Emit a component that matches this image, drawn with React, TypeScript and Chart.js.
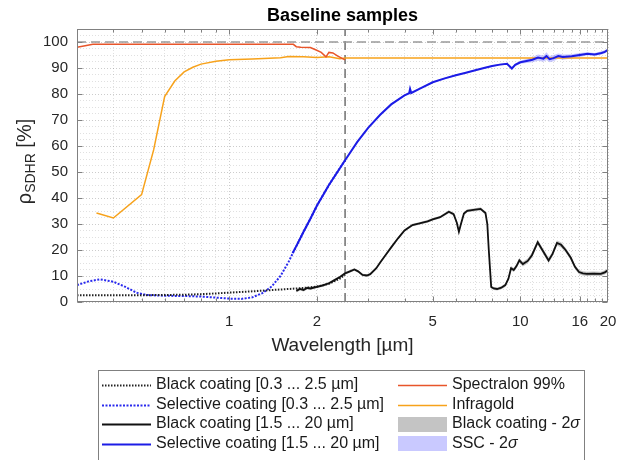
import React, { useEffect, useRef } from "react";
import { Chart, registerables } from "chart.js";

Chart.register(...registerables);

const FONT = '"Liberation Sans", Arial, Helvetica, sans-serif';

// ---------- data ----------
const blackDottedWl = [0.3, 0.35, 0.4, 0.5, 0.6, 0.7, 0.8, 0.9, 1.0, 1.2, 1.4, 1.6, 1.8, 2.0, 2.2, 2.4, 2.5];
const blackDottedVal = [2.6, 2.6, 2.6, 2.6, 2.7, 2.8, 3.0, 3.3, 3.6, 4.1, 4.6, 5.0, 5.4, 5.9, 7.0, 9.0, 10.5];

const blueDottedWl = [0.3, 0.33, 0.36, 0.4, 0.44, 0.48, 0.52, 0.6, 0.7, 0.8, 0.9, 1.0, 1.1, 1.2, 1.3, 1.4, 1.5, 1.6, 1.7, 1.8, 1.9, 2.0, 2.2, 2.4, 2.5];
const blueDottedVal = [6.5, 8.0, 8.7, 7.8, 5.8, 3.6, 2.7, 2.4, 2.3, 2.1, 1.7, 1.3, 1.2, 1.8, 3.4, 6.0, 10.0, 15.5, 21.5, 27, 32, 37, 45, 51.5, 54.5];

const blackSolidWl = [1.7, 1.75, 1.8, 1.85, 1.9, 2.0, 2.1, 2.2, 2.3, 2.4, 2.5, 2.6, 2.69, 2.77, 2.87, 2.97, 3.05, 3.2, 3.3, 3.45, 3.6, 3.8, 4.0, 4.26, 4.5, 4.8, 5.0, 5.3, 5.68, 5.9, 6.05, 6.15, 6.25, 6.4, 6.57, 6.9, 7.3, 7.59, 7.7, 7.79, 7.94, 8.1, 8.32, 8.6, 8.88, 9.1, 9.29, 9.49, 9.7, 9.92, 10.2, 10.6, 10.96, 11.47, 11.9, 12.5, 12.9, 13.36, 13.8, 14.3, 14.9, 15.4, 15.9, 16.4, 16.9, 17.8, 18.9, 19.5, 20.0];
const blackSolidVal = [4.3, 5.0, 4.6, 5.4, 5.2, 5.8, 6.4, 7.2, 8.4, 9.6, 11.0, 11.8, 12.5, 11.8, 10.4, 10.2, 10.7, 13.0, 15.2, 18.2, 21.0, 24.5, 27.5, 29.6, 30.2, 31.0, 31.8, 32.6, 34.7, 33.8, 30.5, 27.0, 30.0, 34.0, 35.1, 35.4, 35.8, 34.2, 30.0, 20.0, 5.8, 5.2, 5.0, 5.5, 6.5, 9.0, 13.0, 12.3, 13.8, 16.0, 14.6, 15.8, 18.0, 23.0, 20.0, 16.0, 18.5, 22.7, 22.0, 20.0, 17.0, 13.5, 11.5, 11.0, 10.8, 10.9, 10.8, 11.4, 12.2];
const blackSigma = [0.6, 0.6, 0.6, 0.6, 0.6, 0.5, 0.5, 0.5, 0.5, 0.5, 0.5, 0.5, 0.5, 0.5, 0.5, 0.5, 0.5, 0.5, 0.5, 0.5, 0.5, 0.5, 0.5, 0.5, 0.5, 0.5, 0.5, 0.5, 0.6, 0.6, 0.6, 0.6, 0.6, 0.6, 0.6, 0.6, 0.6, 0.6, 0.6, 0.6, 0.6, 0.6, 0.6, 0.6, 0.7, 0.7, 0.8, 0.8, 0.8, 0.9, 0.9, 0.9, 1.0, 1.0, 1.0, 1.0, 1.0, 1.0, 1.0, 0.9, 0.9, 0.8, 0.8, 0.8, 0.8, 0.8, 0.8, 0.8, 0.8];

const blueSolidWl = [1.65, 1.7, 1.8, 1.9, 2.0, 2.2, 2.5, 2.75, 3.0, 3.3, 3.6, 4.0, 4.15, 4.18, 4.22, 4.5, 5.0, 5.5, 6.0, 6.5, 7.0, 7.5, 8.0, 8.5, 9.0, 9.2, 9.35, 9.6, 10.0, 10.5, 11.0, 11.5, 12.0, 12.3, 12.6, 13.0, 13.5, 14.0, 15.0, 16.0, 17.0, 18.0, 19.0, 19.5, 20.0];
const blueSolidVal = [18.8, 21.5, 27, 32, 37, 45, 54.5, 61.5, 67, 72, 76, 79.5, 80.3, 82.0, 80.4, 82, 84.5, 86, 87.2, 88.2, 89.1, 90, 90.8, 91.3, 91.6, 90.6, 89.8, 91.2, 92.2, 92.7, 93.2, 94.0, 93.6, 94.6, 93.4, 93.8, 94.6, 94.2, 94.5, 95.0, 95.5, 95.2, 95.8, 96.2, 97.0];
const blueSigma = [0.3, 0.3, 0.3, 0.3, 0.3, 0.3, 0.3, 0.3, 0.3, 0.3, 0.3, 0.3, 0.3, 0.3, 0.3, 0.3, 0.3, 0.3, 0.3, 0.3, 0.3, 0.3, 0.3, 0.3, 0.3, 0.5, 0.5, 0.5, 0.6, 0.8, 1.0, 1.2, 1.2, 1.5, 1.2, 1.2, 1.0, 1.0, 0.8, 0.8, 0.6, 0.6, 0.6, 0.6, 0.6];

const spectralonWl = [0.3, 0.32, 0.34, 0.5, 1.0, 1.66, 1.7, 1.76, 1.9, 1.98, 2.07, 2.15, 2.2, 2.27, 2.36, 2.48, 2.5];
const spectralonVal = [98.0, 98.6, 99.1, 99.1, 99.1, 99.1, 98.2, 98.0, 97.9, 97.0, 96.0, 94.3, 96.0, 95.8, 94.6, 93.3, 93.2];

const infragoldWl = [0.35, 0.4, 0.5, 0.55, 0.6, 0.65, 0.7, 0.75, 0.8, 0.9, 1.0, 1.2, 1.5, 1.6, 1.8, 2.0, 2.2, 2.4, 2.5, 3, 5, 10, 20];
const infragoldVal = [34.2, 32.3, 41.3, 58.5, 79, 85, 88.5, 90.3, 91.5, 92.6, 93.2, 93.5, 93.9, 94.4, 94.3, 94.0, 94.3, 93.6, 93.8, 93.8, 93.8, 93.8, 93.8];

const refLineY = 100;
const refLineX = 2.5;

// ---------- axes ----------
const xMin = 0.3;
const xMax = 20;
const yMin = 0;
const yMax = 105;
const yMinorStep = 2.5;
const xGridValues = [0.3, 0.4, 0.5, 0.6, 0.7, 0.8, 0.9, 1, 2, 3, 4, 5, 6, 7, 8, 9, 10, 11, 12, 13, 14, 15, 16, 17, 18, 19, 20];
const xTickLabels = [1, 2, 5, 10, 16, 20];
const yTickLabels = [0, 10, 20, 30, 40, 50, 60, 70, 80, 90, 100];

const TEXT = "#262626";
const FRAME = "#808080";

const pts = (xs: number[], ys: number[]) => xs.map((x, i) => ({ x, y: ys[i] }));
const bandPts = (xs: number[], ys: number[], s: number[], sign: number) =>
  xs.map((x, i) => ({ x, y: ys[i] + sign * s[i] }));

const legendColumns = [
  [2, 3, 0, 1],
  [4, 5, 7, 9],
];

const legendPlugin = {
  id: "customLegend",
  afterDraw(chart: any) {
    const { ctx, chartArea } = chart;
    const boxW = 486;
    const left = Math.round(chartArea.left + 21);
    const top = 370;
    ctx.save();
    ctx.strokeStyle = FRAME;
    ctx.lineWidth = 1;
    ctx.strokeRect(left + 0.5, top + 0.5, boxW, 120);
    const colX = [left + 4, left + 300];
    const sampleW = 49;
    const rowY0 = top + 15;
    const rowH = 19.5;
    legendColumns.forEach((col, ci) => {
      col.forEach((dsIndex, ri) => {
        const ds = chart.data.datasets[dsIndex];
        const y = rowY0 + ri * rowH;
        const x0 = colX[ci];
        if (ds.fill) {
          ctx.fillStyle = ds.legendColor;
          ctx.fillRect(x0, Math.round(y - 7.5), sampleW, 15);
        } else {
          ctx.strokeStyle = ds.borderColor;
          ctx.lineWidth = ds.borderWidth;
          ctx.setLineDash(ds.borderDash || []);
          ctx.beginPath();
          ctx.moveTo(x0, Math.round(y) + 0.5);
          ctx.lineTo(x0 + sampleW, Math.round(y) + 0.5);
          ctx.stroke();
          ctx.setLineDash([]);
        }
        ctx.fillStyle = "#1a1a1a";
        ctx.textBaseline = "middle";
        ctx.textAlign = "left";
        const label: string = ds.label;
        const parts = label.split("σ");
        let tx = x0 + sampleW + 5;
        parts.forEach((p, pi) => {
          ctx.font = `16px ${FONT}`;
          ctx.fillText(p, tx, y);
          tx += ctx.measureText(p).width;
          if (pi < parts.length - 1) {
            ctx.font = `italic 16px ${FONT}`;
            ctx.fillText("σ", tx, y);
            tx += ctx.measureText("σ").width;
          }
        });
      });
    });
    ctx.restore();
  },
};

const yTitlePlugin = {
  id: "yTitle",
  afterDraw(chart: any) {
    const { ctx, chartArea } = chart;
    const cy = (chartArea.top + chartArea.bottom) / 2 - 4;
    ctx.save();
    ctx.translate(31, cy);
    ctx.rotate(-Math.PI / 2);
    ctx.fillStyle = TEXT;
    ctx.textBaseline = "alphabetic";
    ctx.textAlign = "left";
    const parts = [
      { t: "ρ", f: `20px ${FONT}`, dy: 0 },
      { t: "SDHR", f: `14px ${FONT}`, dy: 4 },
      { t: " [%]", f: `20px ${FONT}`, dy: 0 },
    ];
    let total = 0;
    parts.forEach((p) => {
      ctx.font = p.f;
      total += ctx.measureText(p.t).width;
    });
    let x = -total / 2;
    parts.forEach((p) => {
      ctx.font = p.f;
      ctx.fillText(p.t, x, p.dy);
      x += ctx.measureText(p.t).width;
    });
    ctx.restore();
  },
};

const framePlugin = {
  id: "frame",
  afterDatasetsDraw(chart: any) {
    const { ctx, chartArea: a, scales } = chart;
    const L = Math.round(a.left) + 0.5;
    const R = Math.round(a.right) - 0.5;
    const T = Math.round(a.top) + 0.5;
    const B = Math.round(a.bottom) - 0.5;
    ctx.save();
    ctx.strokeStyle = FRAME;
    ctx.lineWidth = 1;
    ctx.beginPath();
    xGridValues.forEach((v) => {
      if (v <= xMin || v >= xMax) return;
      const px = Math.round(scales.x.getPixelForValue(v)) + 0.5;
      const len = xTickLabels.includes(v) ? 5 : 3;
      ctx.moveTo(px, B);
      ctx.lineTo(px, B - len);
      ctx.moveTo(px, T);
      ctx.lineTo(px, T + len);
    });
    yTickLabels.forEach((v) => {
      const py = Math.round(scales.y.getPixelForValue(v)) + 0.5;
      ctx.moveTo(L, py);
      ctx.lineTo(L + 5, py);
      ctx.moveTo(R, py);
      ctx.lineTo(R - 5, py);
    });
    ctx.stroke();
    ctx.strokeRect(L, T, R - L, B - T);
    ctx.restore();
  },
};

export default function App() {
  const ref = useRef<HTMLCanvasElement>(null);

  useEffect(() => {
    const canvas = ref.current;
    if (!canvas) return;
    Chart.defaults.font.family = FONT;

    const lineDs = (label: string, data: any[], color: string, width: number, dash: number[] = []) => ({
      label,
      data,
      borderColor: color,
      backgroundColor: color,
      borderWidth: width,
      borderDash: dash,
      pointRadius: 0,
      fill: false,
      tension: 0,
    });

    const chart = new Chart(canvas, {
      type: "line",
      data: {
        datasets: [
          lineDs("Black coating [1.5 ... 20 µm]", pts(blackSolidWl, blackSolidVal), "#111111", 1.8),
          lineDs("Selective coating [1.5 ... 20 µm]", pts(blueSolidWl, blueSolidVal), "#1c1ce6", 2),
          lineDs("Black coating [0.3 ... 2.5 µm]", pts(blackDottedWl, blackDottedVal), "#222222", 2, [1.5, 1.5]),
          lineDs("Selective coating [0.3 ... 2.5 µm]", pts(blueDottedWl, blueDottedVal), "#2a2aee", 2, [2, 1.5]),
          lineDs("Spectralon 99%", pts(spectralonWl, spectralonVal), "#e8552a", 1.5),
          lineDs("Infragold", pts(infragoldWl, infragoldVal), "#f7a21b", 1.5),
          {
            label: "",
            data: bandPts(blackSolidWl, blackSolidVal, blackSigma, 1),
            borderWidth: 0,
            pointRadius: 0,
            fill: false,
          },
          {
            label: "Black coating - 2σ",
            data: bandPts(blackSolidWl, blackSolidVal, blackSigma, -1),
            borderWidth: 0,
            pointRadius: 0,
            fill: "-1",
            backgroundColor: "rgba(140,140,140,0.5)",
            legendColor: "#c4c4c4",
          } as any,
          {
            label: "",
            data: bandPts(blueSolidWl, blueSolidVal, blueSigma, 1),
            borderWidth: 0,
            pointRadius: 0,
            fill: false,
          },
          {
            label: "SSC - 2σ",
            data: bandPts(blueSolidWl, blueSolidVal, blueSigma, -1),
            borderWidth: 0,
            pointRadius: 0,
            fill: "-1",
            backgroundColor: "rgba(120,120,255,0.4)",
            legendColor: "#c9c9ff",
          } as any,
          lineDs("", [{ x: xMin, y: refLineY }, { x: xMax, y: refLineY }], "#9a9a9a", 1.5, [9, 5]),
          lineDs("", [{ x: refLineX, y: yMin }, { x: refLineX, y: yMax }], "#666666", 1.4, [9, 5]),
        ],
      },
      options: {
        responsive: false,
        animation: false,
        devicePixelRatio: 1,
        layout: { padding: { left: 0, right: 11, top: 0, bottom: 90 } },
        plugins: {
          legend: { display: false },
          tooltip: { enabled: false },
          title: {
            display: true,
            text: "Baseline samples",
            fullSize: false,
            color: "#000",
            font: { size: 18, weight: "bold", family: FONT },
            padding: { top: 5.5, bottom: 1.9 },
          },
        },
        scales: {
          x: {
            type: "logarithmic",
            min: xMin,
            max: xMax,
            afterBuildTicks: (s: any) => {
              s.ticks = xGridValues.map((v) => ({ value: v }));
            },
            afterFit: (s: any) => {
              s.height = 68;
              s.paddingLeft = 0;
              s.paddingRight = 0;
            },
            ticks: {
              autoSkip: false,
              maxRotation: 0,
              minRotation: 0,
              padding: 11,
              color: TEXT,
              font: { size: 15, family: FONT },
              callback: (v: any) => (xTickLabels.includes(Number(v)) ? String(v) : ""),
            },
            grid: {
              drawTicks: false,
              lineWidth: 1,
              color: (c: any) =>
                c.tick && xTickLabels.includes(c.tick.value) ? "rgba(0,0,0,0.2)" : "rgba(0,0,0,0.12)",
            },
            border: { display: false, dash: [1, 2] },
            title: {
              display: true,
              text: "Wavelength [µm]",
              color: TEXT,
              font: { size: 19, family: FONT },
              padding: { top: 0, bottom: 13 },
            },
          },
          y: {
            type: "linear",
            min: yMin,
            max: yMax,
            afterFit: (s: any) => {
              s.width = 77;
              s.paddingTop = 0;
              s.paddingBottom = 0;
            },
            ticks: {
              stepSize: yMinorStep,
              maxTicksLimit: 100,
              autoSkip: false,
              padding: 9,
              color: TEXT,
              font: { size: 15, family: FONT },
              callback: (v: any) => (yTickLabels.includes(Number(v)) ? String(v) : ""),
            },
            grid: {
              drawTicks: false,
              lineWidth: 1,
              color: (c: any) =>
                c.tick && yTickLabels.includes(c.tick.value) ? "rgba(0,0,0,0.2)" : "rgba(0,0,0,0.12)",
            },
            border: { display: false, dash: [1, 2] },
          },
        },
      },
      plugins: [framePlugin, yTitlePlugin, legendPlugin],
    } as any);

    return () => chart.destroy();
  }, []);

  return (
    <div style={{ position: "absolute", left: 0, top: 0, width: 619, height: 460, background: "#fff" }}>
      <canvas ref={ref} width={619} height={460} style={{ display: "block" }} />
    </div>
  );
}
